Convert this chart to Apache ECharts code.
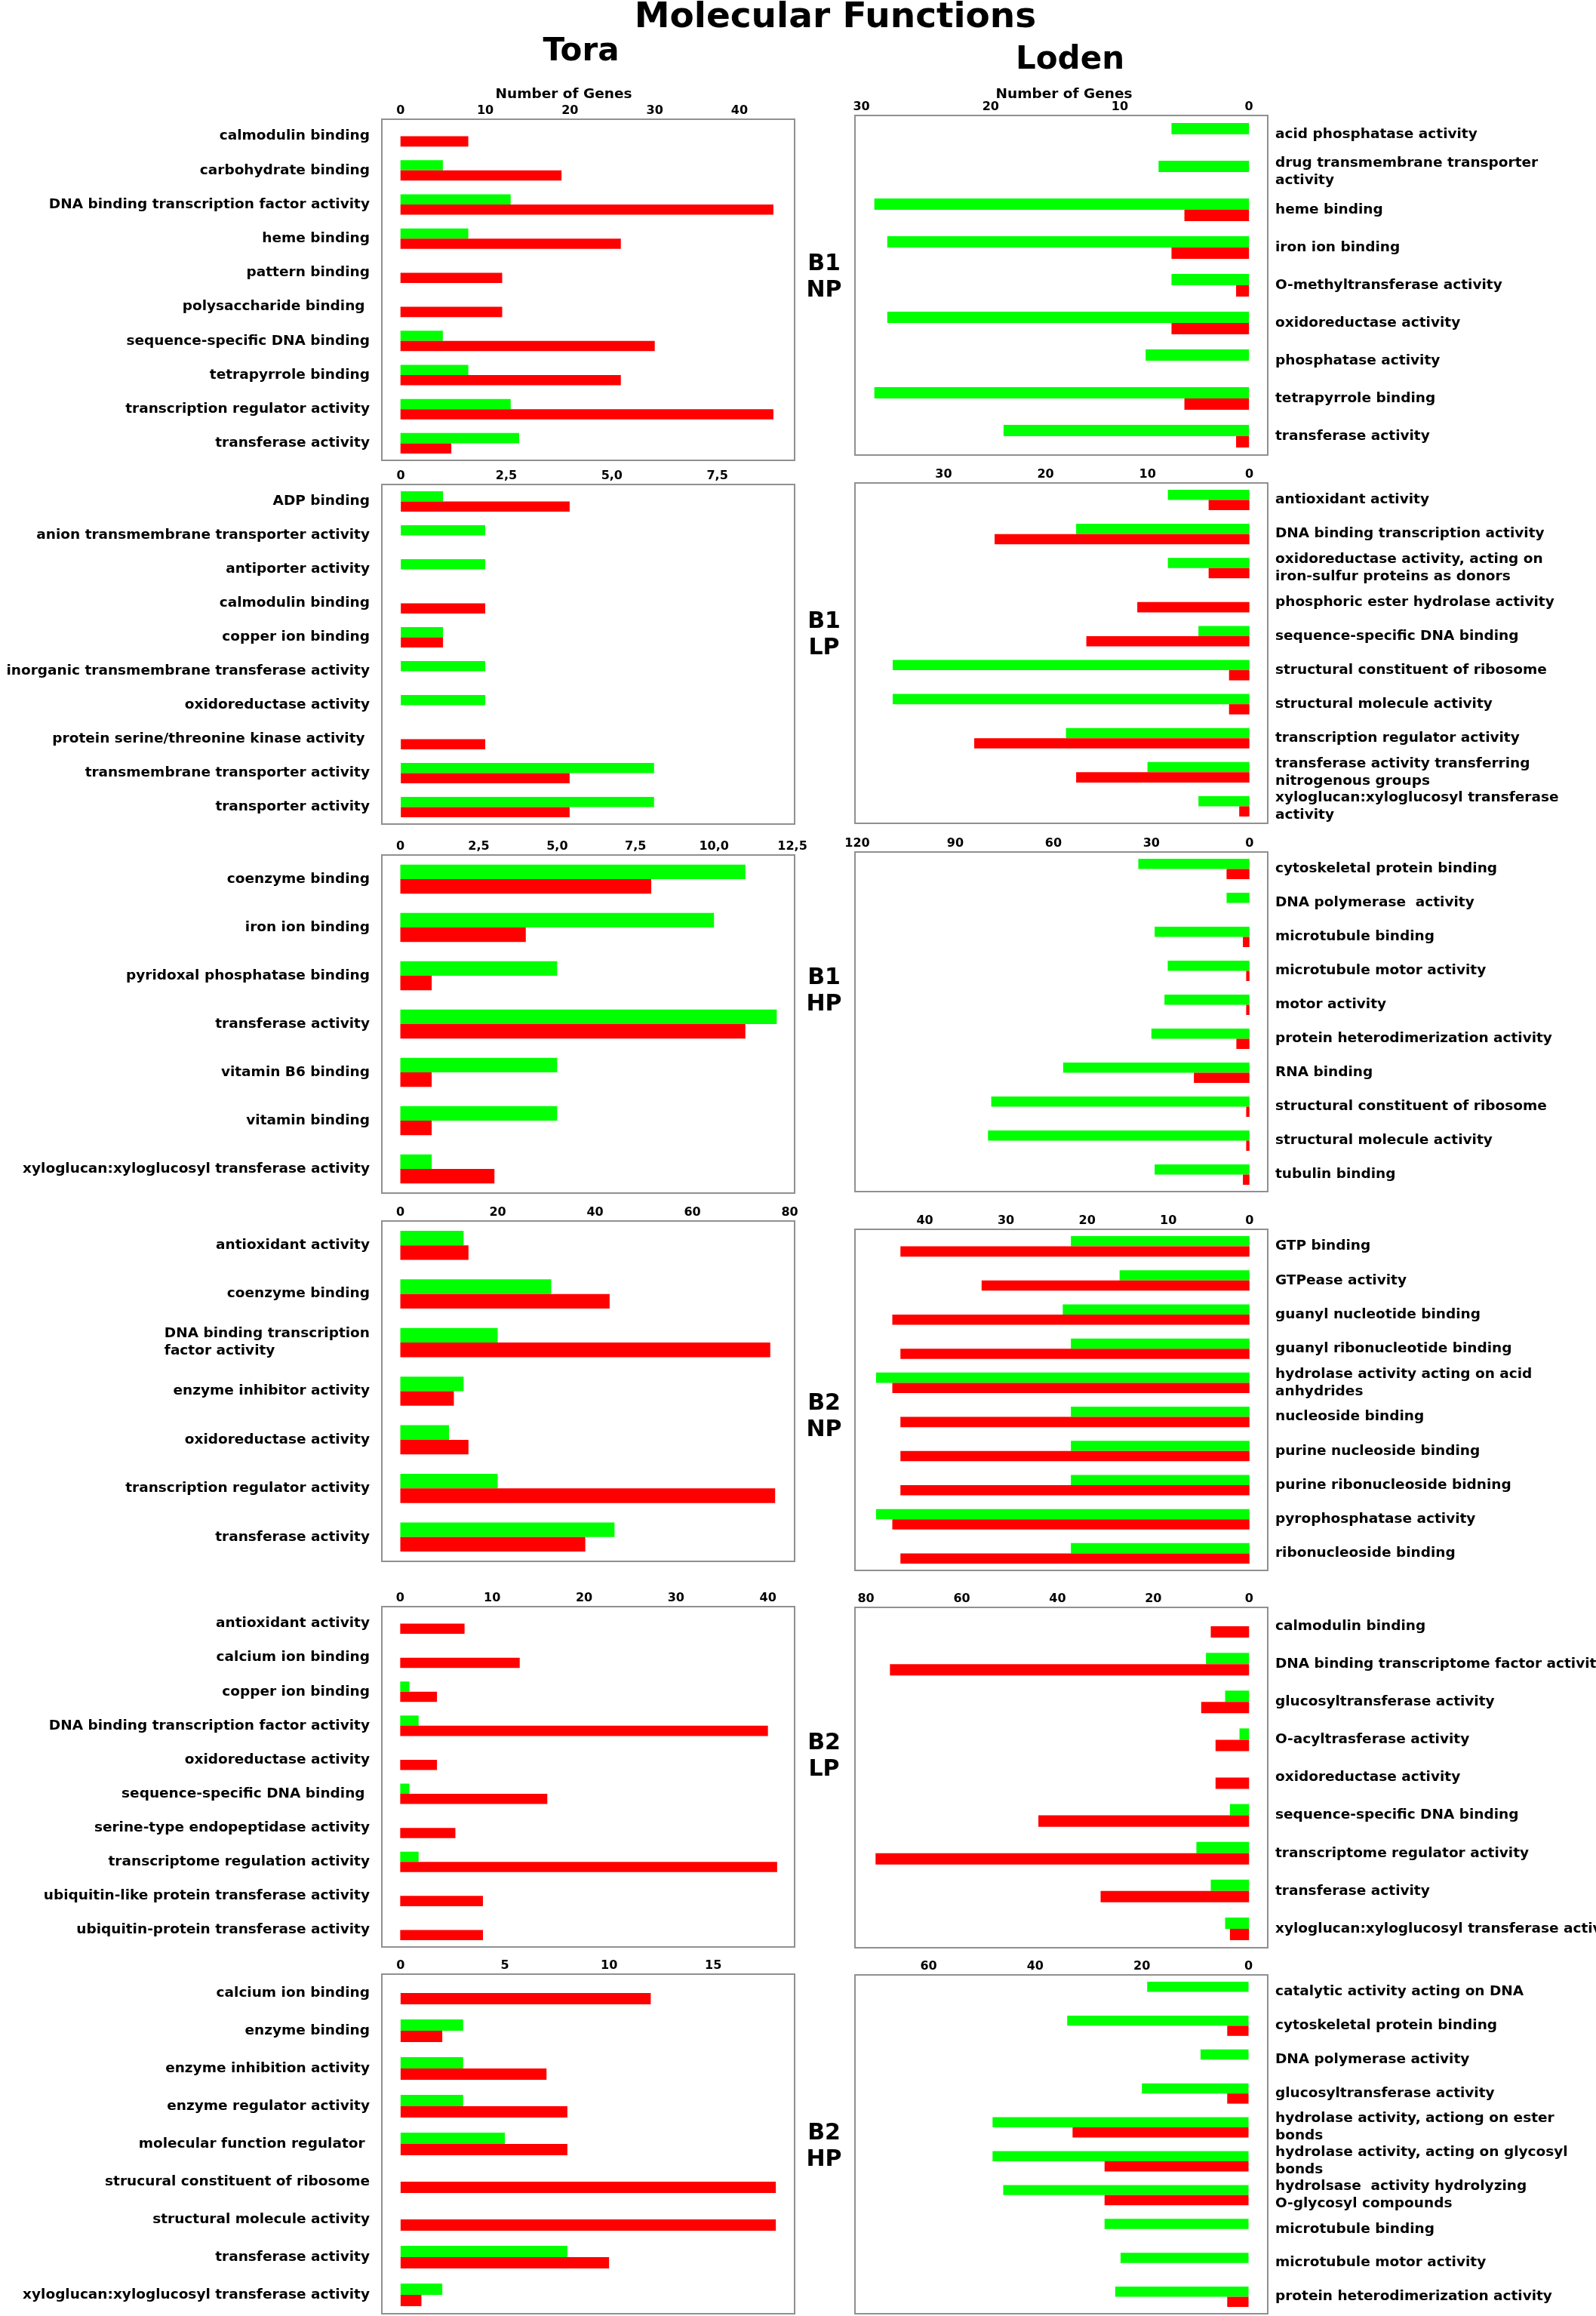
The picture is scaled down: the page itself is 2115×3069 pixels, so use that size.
<!DOCTYPE html>
<html>
<head>
<meta charset="utf-8">
<title>Molecular Functions</title>
<script src="https://cdn.jsdelivr.net/npm/echarts@6/dist/echarts.min.js"></script>
<style>
  html, body { margin: 0; padding: 0; background: #fff; }
  #chart { width: 2115px; height: 3069px; }
</style>
</head>
<body>
<div id="chart"></div>
<script>
// ---- data ----
// B1 NP
var b1npToraCats = ['calmodulin binding', 'carbohydrate binding', 'DNA binding transcription factor activity', 'heme binding', 'pattern binding', 'polysaccharide binding ', 'sequence-specific DNA binding', 'tetrapyrrole binding', 'transcription regulator activity', 'transferase activity'];
var b1npToraGreen = [0, 5, 13, 8, 0, 0, 5, 8, 13, 14];
var b1npToraRed = [8, 19, 44, 26, 12, 12, 30, 26, 44, 6];
var b1npToraTicks = [0, 10, 20, 30, 40];
var b1npToraTickText = ['0', '10', '20', '30', '40'];

var b1npLodenCats = ['acid phosphatase activity', 'drug transmembrane transporter\nactivity', 'heme binding', 'iron ion binding', 'O-methyltransferase activity', 'oxidoreductase activity', 'phosphatase activity', 'tetrapyrrole binding', 'transferase activity'];
var b1npLodenGreen = [6, 7, 29, 28, 6, 28, 8, 29, 19];
var b1npLodenRed = [0, 0, 5, 6, 1, 6, 0, 5, 1];
var b1npLodenTicks = [0, 10, 20, 30];
var b1npLodenTickText = ['0', '10', '20', '30'];

// B1 LP
var b1lpToraCats = ['ADP binding', 'anion transmembrane transporter activity', 'antiporter activity', 'calmodulin binding', 'copper ion binding', 'inorganic transmembrane transferase activity', 'oxidoreductase activity', 'protein serine/threonine kinase activity ', 'transmembrane transporter activity', 'transporter activity'];
var b1lpToraGreen = [1, 2, 2, 0, 1, 2, 2, 0, 6, 6];
var b1lpToraRed = [4, 0, 0, 2, 1, 0, 0, 2, 4, 4];
var b1lpToraTicks = [0, 2.5, 5, 7.5];
var b1lpToraTickText = ['0', '2,5', '5,0', '7,5'];

var b1lpLodenCats = ['antioxidant activity', 'DNA binding transcription activity', 'oxidoreductase activity, acting on\niron-sulfur proteins as donors', 'phosphoric ester hydrolase activity', 'sequence-specific DNA binding', 'structural constituent of ribosome', 'structural molecule activity', 'transcription regulator activity', 'transferase activity transferring\nnitrogenous groups', 'xyloglucan:xyloglucosyl transferase\nactivity'];
var b1lpLodenGreen = [8, 17, 8, 0, 5, 35, 35, 18, 10, 5];
var b1lpLodenRed = [4, 25, 4, 11, 16, 2, 2, 27, 17, 1];
var b1lpLodenTicks = [0, 10, 20, 30];
var b1lpLodenTickText = ['0', '10', '20', '30'];

// B1 HP
var b1hpToraCats = ['coenzyme binding', 'iron ion binding', 'pyridoxal phosphatase binding', 'transferase activity', 'vitamin B6 binding', 'vitamin binding', 'xyloglucan:xyloglucosyl transferase activity'];
var b1hpToraGreen = [11, 10, 5, 12, 5, 5, 1];
var b1hpToraRed = [8, 4, 1, 11, 1, 1, 3];
var b1hpToraTicks = [0, 2.5, 5, 7.5, 10, 12.5];
var b1hpToraTickText = ['0', '2,5', '5,0', '7,5', '10,0', '12,5'];

var b1hpLodenCats = ['cytoskeletal protein binding', 'DNA polymerase  activity', 'microtubule binding', 'microtubule motor activity', 'motor activity', 'protein heterodimerization activity', 'RNA binding', 'structural constituent of ribosome', 'structural molecule activity', 'tubulin binding'];
var b1hpLodenGreen = [34, 7, 29, 25, 26, 30, 57, 79, 80, 29];
var b1hpLodenRed = [7, 0, 2, 1, 1, 4, 17, 1, 1, 2];
var b1hpLodenTicks = [0, 30, 60, 90, 120];
var b1hpLodenTickText = ['0', '30', '60', '90', '120'];

// B2 NP
var b2npToraCats = ['antioxidant activity', 'coenzyme binding', 'DNA binding transcription\nfactor activity', 'enzyme inhibitor activity', 'oxidoreductase activity', 'transcription regulator activity', 'transferase activity'];
var b2npToraGreen = [13, 31, 20, 13, 10, 20, 44];
var b2npToraRed = [14, 43, 76, 11, 14, 77, 38];
var b2npToraTicks = [0, 20, 40, 60, 80];
var b2npToraTickText = ['0', '20', '40', '60', '80'];

var b2npLodenCats = ['GTP binding', 'GTPease activity', 'guanyl nucleotide binding', 'guanyl ribonucleotide binding', 'hydrolase activity acting on acid\nanhydrides', 'nucleoside binding', 'purine nucleoside binding', 'purine ribonucleoside bidning', 'pyrophosphatase activity', 'ribonucleoside binding'];
var b2npLodenGreen = [22, 16, 23, 22, 46, 22, 22, 22, 46, 22];
var b2npLodenRed = [43, 33, 44, 43, 44, 43, 43, 43, 44, 43];
var b2npLodenTicks = [0, 10, 20, 30, 40];
var b2npLodenTickText = ['0', '10', '20', '30', '40'];

// B2 LP
var b2lpToraCats = ['antioxidant activity', 'calcium ion binding', 'copper ion binding', 'DNA binding transcription factor activity', 'oxidoreductase activity', 'sequence-specific DNA binding ', 'serine-type endopeptidase activity', 'transcriptome regulation activity', 'ubiquitin-like protein transferase activity', 'ubiquitin-protein transferase activity'];
var b2lpToraGreen = [0, 0, 1, 2, 0, 1, 0, 2, 0, 0];
var b2lpToraRed = [7, 13, 4, 40, 4, 16, 6, 41, 9, 9];
var b2lpToraTicks = [0, 10, 20, 30, 40];
var b2lpToraTickText = ['0', '10', '20', '30', '40'];

var b2lpLodenCats = ['calmodulin binding', 'DNA binding transcriptome factor activity', 'glucosyltransferase activity', 'O-acyltrasferase activity', 'oxidoreductase activity', 'sequence-specific DNA binding', 'transcriptome regulator activity', 'transferase activity', 'xyloglucan:xyloglucosyl transferase activity'];
var b2lpLodenGreen = [0, 9, 5, 2, 0, 4, 11, 8, 5];
var b2lpLodenRed = [8, 75, 10, 7, 7, 44, 78, 31, 4];
var b2lpLodenTicks = [0, 20, 40, 60, 80];
var b2lpLodenTickText = ['0', '20', '40', '60', '80'];

// B2 HP
var b2hpToraCats = ['calcium ion binding', 'enzyme binding', 'enzyme inhibition activity', 'enzyme regulator activity', 'molecular function regulator ', 'strucural constituent of ribosome', 'structural molecule activity', 'transferase activity', 'xyloglucan:xyloglucosyl transferase activity'];
var b2hpToraGreen = [0, 3, 3, 3, 5, 0, 0, 8, 2];
var b2hpToraRed = [12, 2, 7, 8, 8, 18, 18, 10, 1];
var b2hpToraTicks = [0, 5, 10, 15];
var b2hpToraTickText = ['0', '5', '10', '15'];

var b2hpLodenCats = ['catalytic activity acting on DNA', 'cytoskeletal protein binding', 'DNA polymerase activity', 'glucosyltransferase activity', 'hydrolase activity, actiong on ester\nbonds', 'hydrolase activity, acting on glycosyl\nbonds', 'hydrolsase  activity hydrolyzing\nO-glycosyl compounds', 'microtubule binding', 'microtubule motor activity', 'protein heterodimerization activity'];
var b2hpLodenGreen = [19, 34, 9, 20, 48, 48, 46, 27, 24, 25];
var b2hpLodenRed = [0, 4, 0, 4, 33, 27, 27, 0, 0, 4];
var b2hpLodenTicks = [0, 20, 40, 60];
var b2hpLodenTickText = ['0', '20', '40', '60'];

var rowNames = ['B1\nNP', 'B1\nLP', 'B1\nHP', 'B2\nNP', 'B2\nLP', 'B2\nHP'];

// ---- layout ----
var FONT = 'DejaVu Sans';
var GREEN = '#00ff00', RED = '#ff0000';

var panels = [
  { side: 'L', top: 158,  height: 452, min: -2.2,  max: 46.5,  cats: b1npToraCats,  green: b1npToraGreen,  red: b1npToraRed,  ticks: b1npToraTicks,  tickText: b1npToraTickText },
  { side: 'R', top: 153,  height: 450, min: -1.45, max: 30.5,  cats: b1npLodenCats, green: b1npLodenGreen, red: b1npLodenRed, ticks: b1npLodenTicks, tickText: b1npLodenTickText },
  { side: 'L', top: 642,  height: 450, min: -0.45, max: 9.33,  cats: b1lpToraCats,  green: b1lpToraGreen,  red: b1lpToraRed,  ticks: b1lpToraTicks,  tickText: b1lpToraTickText },
  { side: 'R', top: 640,  height: 451, min: -1.8,  max: 38.7,  cats: b1lpLodenCats, green: b1lpLodenGreen, red: b1lpLodenRed, ticks: b1lpLodenTicks, tickText: b1lpLodenTickText },
  { side: 'L', top: 1133, height: 448, min: -0.59, max: 12.57, cats: b1hpToraCats,  green: b1hpToraGreen,  red: b1hpToraRed,  ticks: b1hpToraTicks,  tickText: b1hpToraTickText },
  { side: 'R', top: 1129, height: 450, min: -5.6,  max: 120.7, cats: b1hpLodenCats, green: b1hpLodenGreen, red: b1hpLodenRed, ticks: b1hpLodenTicks, tickText: b1hpLodenTickText },
  { side: 'L', top: 1618, height: 451, min: -3.8,  max: 81,    cats: b2npToraCats,  green: b2npToraGreen,  red: b2npToraRed,  ticks: b2npToraTicks,  tickText: b2npToraTickText },
  { side: 'R', top: 1629, height: 452, min: -2.25, max: 48.6,  cats: b2npLodenCats, green: b2npLodenGreen, red: b2npLodenRed, ticks: b2npLodenTicks, tickText: b2npLodenTickText },
  { side: 'L', top: 2129, height: 451, min: -2,    max: 42.9,  cats: b2lpToraCats,  green: b2lpToraGreen,  red: b2lpToraRed,  ticks: b2lpToraTicks,  tickText: b2lpToraTickText },
  { side: 'R', top: 2130, height: 451, min: -3.9,  max: 82.3,  cats: b2lpLodenCats, green: b2lpLodenGreen, red: b2lpLodenRed, ticks: b2lpLodenTicks, tickText: b2lpLodenTickText },
  { side: 'L', top: 2616, height: 450, min: -0.9,  max: 18.9,  cats: b2hpToraCats,  green: b2hpToraGreen,  red: b2hpToraRed,  ticks: b2hpToraTicks,  tickText: b2hpToraTickText },
  { side: 'R', top: 2617, height: 449, min: -3.6,  max: 73.8,  cats: b2hpLodenCats, green: b2hpLodenGreen, red: b2hpLodenRed, ticks: b2hpLodenTicks, tickText: b2hpLodenTickText }
];
var rowCenters = [368, 842, 1314, 1878, 2328, 2845];

function tickFmt(ticks, text) {
  return function (v) {
    for (var i = 0; i < ticks.length; i++) {
      if (Math.abs(ticks[i] - v) < 1e-6) return text[i];
    }
    return '';
  };
}

// left-hand labels broken on two lines keep their lines flush left, as in the figure
function catFmt(v) {
  if (v.indexOf('\n') < 0) return v;
  return v.split('\n').map(function (s) { return '{l|' + s + '}'; }).join('\n');
}

var labelFont = { fontFamily: FONT, fontWeight: 'bold', fontSize: 18.5, lineHeight: 23, color: '#000' };

var grids = [], xAxes = [], yAxes = [], series = [];
panels.forEach(function (p, i) {
  var left = p.side === 'L';
  grids.push({
    left: left ? 506 : 1133, width: 547, top: p.top, height: p.height,
    outerBoundsMode: 'none', containLabel: false,
    show: true, borderColor: '#909090', borderWidth: 2, backgroundColor: 'transparent'
  });
  xAxes.push({
    gridIndex: i, type: 'value', position: 'top', inverse: !left,
    min: p.min, max: p.max,
    splitLine: { show: false }, axisLine: { show: false }, axisTick: { show: false },
    axisLabel: {
      customValues: p.ticks, formatter: tickFmt(p.ticks, p.tickText),
      margin: 3, fontFamily: FONT, fontWeight: 'bold', fontSize: 16, color: '#000'
    }
  });
  var yLabel = Object.assign({
    interval: 0, margin: left ? 16 : 10, align: left ? 'right' : 'left'
  }, labelFont);
  if (left) {
    yLabel.formatter = catFmt;
    yLabel.rich = { l: Object.assign({ align: 'left' }, labelFont) };
  }
  yAxes.push({
    gridIndex: i, type: 'category', data: p.cats, inverse: true,
    position: left ? 'left' : 'right',
    axisLine: { show: false }, axisTick: { show: false }, splitLine: { show: false },
    axisLabel: yLabel
  });
  series.push({
    type: 'bar', name: 'green', xAxisIndex: i, yAxisIndex: i, data: p.green,
    itemStyle: { color: GREEN }, barGap: '0%', barCategoryGap: '40%', silent: true
  });
  series.push({
    type: 'bar', name: 'red', xAxisIndex: i, yAxisIndex: i, data: p.red,
    itemStyle: { color: RED }, barGap: '0%', barCategoryGap: '40%', silent: true
  });
});

function txt(text, x, y, size, lh) {
  return {
    text: text, left: x, top: y, padding: 0,
    textAlign: 'center', textVerticalAlign: 'middle',
    textStyle: { fontFamily: FONT, fontWeight: 'bold', fontSize: size, lineHeight: lh || size * 1.2, color: '#000' }
  };
}

var titles = [
  txt('Molecular Functions', 1107, 24, 47),
  txt('Tora', 770, 69, 42),
  txt('Loden', 1418, 80, 42),
  txt('Number of Genes', 747, 125, 18.5),
  txt('Number of Genes', 1410, 125, 18.5)
];
rowNames.forEach(function (name, i) {
  titles.push(txt(name, 1092, rowCenters[i], 30, 35));
});

var myChart = echarts.init(document.getElementById('chart'), null, { renderer: 'canvas' });
myChart.setOption({
  backgroundColor: '#fff',
  animation: false,
  title: titles,
  grid: grids,
  xAxis: xAxes,
  yAxis: yAxes,
  series: series
});
</script>
</body>
</html>
